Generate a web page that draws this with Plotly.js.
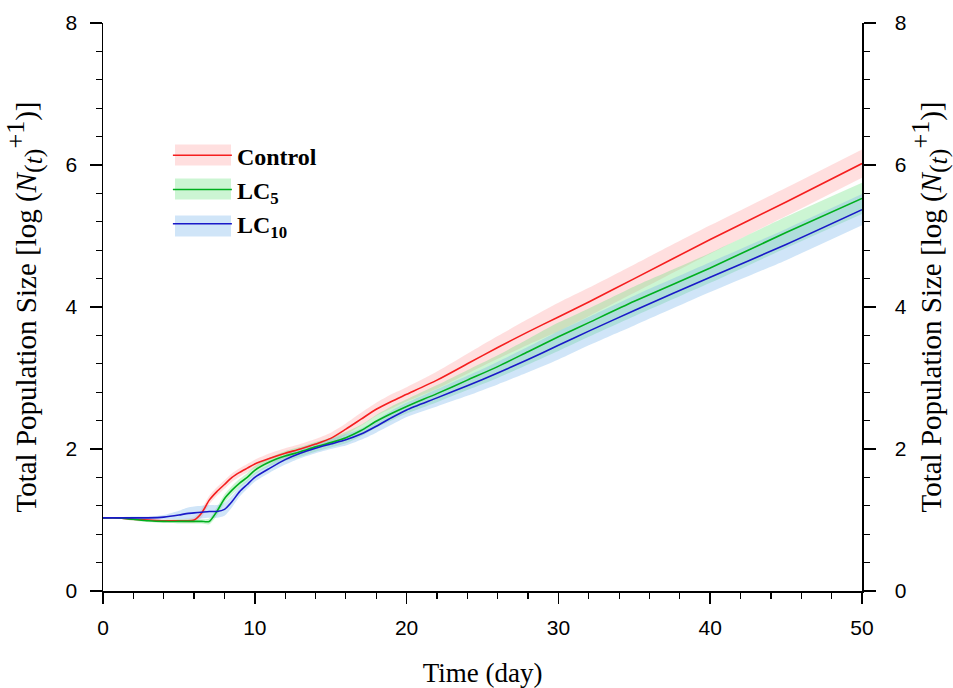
<!DOCTYPE html>
<html>
<head>
<meta charset="utf-8">
<script src="https://cdn.plot.ly/plotly-3.0.1.min.js"></script>
<style>html,body{margin:0;padding:0;background:#fff;}#chart{width:953px;height:688px;}</style>
</head>
<body>
<div id="chart"></div>
<script>
// Time (day)
const days = [0,1,2,3,4,5,5.5,6,6.5,7,7.5,8,8.5,9,9.5,10,11,12,13,14,15,16,17,18,19,20,22,24,26,28,30,32,35,40,45,50];

// Mean total population size, log(N(t)+1)
const control = [1.03,1.03,1.01,1.00,0.99,0.99,0.99,1.00,1.10,1.28,1.40,1.50,1.60,1.67,1.73,1.79,1.87,1.94,2.00,2.07,2.15,2.28,2.42,2.56,2.67,2.77,2.97,3.20,3.43,3.65,3.86,4.07,4.40,4.95,5.48,6.02];
const lc5     = [1.03,1.03,1.01,0.99,0.98,0.98,0.98,0.98,0.98,0.98,1.12,1.30,1.42,1.52,1.60,1.70,1.82,1.90,1.96,2.03,2.09,2.16,2.26,2.39,2.50,2.60,2.78,2.97,3.16,3.37,3.58,3.78,4.08,4.55,5.05,5.53];
const lc10    = [1.03,1.03,1.03,1.03,1.04,1.07,1.09,1.10,1.11,1.12,1.12,1.15,1.26,1.40,1.50,1.60,1.73,1.85,1.94,2.01,2.07,2.13,2.21,2.32,2.44,2.55,2.72,2.89,3.07,3.26,3.46,3.66,3.95,4.42,4.88,5.37];

// Half-width of the shaded confidence band
const controlBand = [0.01,0.01,0.02,0.02,0.02,0.02,0.03,0.04,0.06,0.06,0.06,0.06,0.06,0.06,0.06,0.06,0.07,0.07,0.07,0.07,0.08,0.08,0.09,0.09,0.10,0.10,0.12,0.14,0.16,0.18,0.20,0.20,0.20,0.20,0.20,0.20];
const lc5Band     = [0.01,0.01,0.02,0.02,0.02,0.03,0.03,0.03,0.03,0.04,0.06,0.06,0.06,0.06,0.06,0.06,0.06,0.07,0.07,0.07,0.07,0.08,0.08,0.09,0.10,0.10,0.12,0.14,0.16,0.18,0.20,0.20,0.21,0.21,0.22,0.22];
const lc10Band    = [0.01,0.01,0.02,0.02,0.03,0.06,0.08,0.09,0.09,0.09,0.09,0.09,0.08,0.07,0.06,0.06,0.06,0.07,0.07,0.07,0.07,0.08,0.08,0.09,0.10,0.10,0.12,0.14,0.16,0.18,0.20,0.20,0.21,0.21,0.22,0.22];

const seriesNames = ['<b>Control</b>','<b>LC<sub>5</sub></b>','<b>LC<sub>10</sub></b>'];
const lineColors = ['rgb(245,30,30)','rgb(0,175,30)','rgb(25,25,200)'];
const bandColors = ['rgba(255,140,140,0.28)','rgba(110,225,130,0.35)','rgba(120,180,235,0.35)'];

const means = [control, lc5, lc10];
const bands = [controlBand, lc5Band, lc10Band];

const sm = 0.7;
const traces = [];
means.forEach((m, i) => {
  const lo = m.map((v, k) => v - bands[i][k]);
  const hi = m.map((v, k) => v + bands[i][k]);
  traces.push({x: days, y: lo, mode: 'lines', line: {width: 0, color: bandColors[i], shape: 'spline', smoothing: sm}, showlegend: false, hoverinfo: 'skip'});
  traces.push({x: days, y: hi, mode: 'lines', line: {width: 0, color: bandColors[i], shape: 'spline', smoothing: sm}, fill: 'tonexty', fillcolor: bandColors[i], showlegend: false, hoverinfo: 'skip'});
});
means.forEach((m, i) => {
  traces.push({x: days, y: m, mode: 'lines', name: seriesNames[i], line: {width: 1.6, color: lineColors[i], shape: 'spline', smoothing: sm}, legendgroup: 'g' + i});
});
// empty trace to activate right axis
traces.push({x: [], y: [], yaxis: 'y2', showlegend: false, hoverinfo: 'skip'});

const yTitle = 'Total Population Size [log (<i>N</i><sub><span style="font-size:26px">(<i>t</i>)</span></sub><sup><span style="font-size:26px">+1</span></sup>)]';
const serif = 'Liberation Serif, Times New Roman, serif';
const sans = 'Liberation Sans, Arial, sans-serif';

function yAxis(side, standoff, labelStandoff) {
  return {
    side: side,
    range: [0, 8], dtick: 2, tick0: 0,
    showline: true, linecolor: 'black', linewidth: 1.5,
    ticks: 'outside', ticklen: 12, tickwidth: 1.5, tickcolor: 'black',
    minor: {dtick: 0.4, ticks: 'outside', ticklen: 6, tickwidth: 1.2, tickcolor: 'black'},
    showgrid: false, zeroline: false,
    ticklabelstandoff: labelStandoff,
    tickfont: {family: sans, size: 21, color: 'black'},
    title: {text: yTitle, standoff: standoff, font: {family: serif, size: 29, color: 'black'}}
  };
}

// legend swatches (shaded band behind each legend line)
const swatchY = [155, 189, 226];
const shapes = swatchY.map((py, i) => ({
  type: 'rect', xref: 'paper', yref: 'paper', layer: 'above',
  x0: (175 - 103) / 759, x1: (231 - 103) / 759,
  y0: (591 - (py + 10.5)) / 568, y1: (591 - (py - 10.5)) / 568,
  fillcolor: bandColors[i], line: {width: 0}
}));

const y2 = yAxis('right', 14, 15);
y2.overlaying = 'y'; y2.anchor = 'x';

const layout = {
  width: 953, height: 688,
  margin: {l: 103, r: 91, t: 23, b: 97},
  paper_bgcolor: 'white', plot_bgcolor: 'white',
  showlegend: true,
  legend: {x: 0.0855, y: 0.806, xanchor: 'left', yanchor: 'top', itemwidth: 59,
           font: {family: serif, size: 24, color: 'black'}, bgcolor: 'rgba(0,0,0,0)', tracegroupgap: 0},
  shapes: shapes,
  xaxis: {
    range: [0, 50], dtick: 10, tick0: 0,
    showline: true, linecolor: 'black', linewidth: 1.5,
    ticks: 'outside', ticklen: 11, tickwidth: 1.5, tickcolor: 'black',
    minor: {dtick: 2, ticks: 'outside', ticklen: 6, tickwidth: 1.2, tickcolor: 'black'},
    showgrid: false, zeroline: false,
    ticklabelstandoff: 6,
    tickfont: {family: sans, size: 21, color: 'black'},
    title: {text: 'Time (day)', standoff: 26, font: {family: serif, size: 27, color: 'black'}}
  },
  yaxis: yAxis('left', 20, 8),
  yaxis2: y2
};

Plotly.newPlot('chart', traces, layout, {displayModeBar: false, staticPlot: true});
</script>
</body>
</html>
